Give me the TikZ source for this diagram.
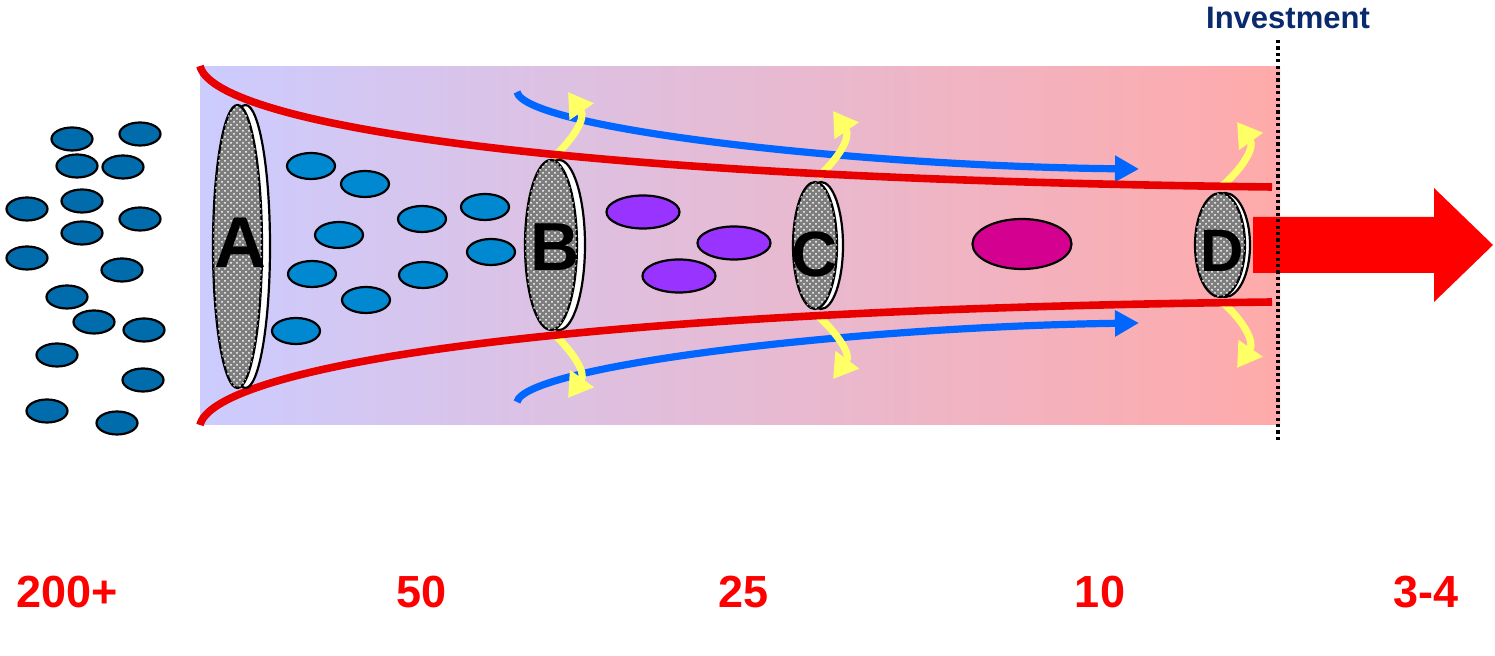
\documentclass[tikz,border=0pt]{standalone}
\usepackage{fontspec}
\setmainfont{Liberation Sans}
\usetikzlibrary{shapes.geometric,arrows.meta,patterns}
\definecolor{bgL}{RGB}{204,204,255}
\definecolor{bgR}{RGB}{255,170,170}
\definecolor{redline}{RGB}{232,0,0}
\definecolor{blueline}{RGB}{0,102,255}
\definecolor{yellowline}{RGB}{255,255,102}
\definecolor{dotL}{RGB}{0,108,172}
\definecolor{dotI}{RGB}{0,136,208}
\definecolor{purp}{RGB}{153,51,255}
\definecolor{mag}{RGB}{212,0,143}
\definecolor{navy}{RGB}{10,42,110}
\definecolor{numred}{RGB}{255,0,0}
\definecolor{discgray}{RGB}{125,125,125}
\tikzset{
 ldot/.style={ellipse, draw=black, line width=1.1pt, fill=dotL, minimum width=20.5pt, minimum height=11.5pt, inner sep=0pt},
 idot/.style={ldot, fill=dotI, minimum width=24pt, minimum height=13pt},
 pdot/.style={ldot, fill=purp, minimum width=36.5pt, minimum height=16.5pt},
 mdot/.style={ldot, fill=mag, minimum width=49.5pt, minimum height=25pt},
 disc/.style={ellipse, draw=black, line width=1.1pt, fill=discgray, postaction={pattern=crosshatch dots, pattern color=white}, inner sep=0pt},
 discback/.style={ellipse, draw=black, line width=1.1pt, fill=white, inner sep=0pt},
 letter/.style={font=\bfseries\fontsize{#1}{#1}\selectfont, inner sep=0pt},
 numlabel/.style={text=numred, font=\bfseries\fontsize{22.5}{24}\selectfont, inner sep=0pt},
 redcurve/.style={draw=redline, line width=3.8pt},
 bluearrow/.style={draw=blueline, line width=3.6pt, -{Triangle[length=12pt,width=12.5pt]}},
 yellowarrow/.style={draw=yellowline, line width=3.6pt, -{Triangle[length=12pt,width=14pt]}},
}
\begin{document}
\begin{tikzpicture}[x=0.5pt,y=-0.5pt]
\useasboundingbox (0,0) rectangle (1495,656);
% background band
\shade[left color=bgL, right color=bgR] (200,67) rectangle (1280,425);

% blue arrows
\coordinate (bt0) at (517,92);
\coordinate (bt1) at (1139,169);
\coordinate (bb0) at (517,402);
\coordinate (bb1) at (1139,323);
\draw[bluearrow] (bt0) .. controls (525,128) and (850,166) .. (bt1);
\draw[bluearrow] (bb0) .. controls (525,366) and (850,327) .. (bb1);

% yellow arrows
\coordinate (yB0) at (553,158); \coordinate (yB1) at (568,92);
\coordinate (yB2) at (553,333); \coordinate (yB3) at (568,398);
\coordinate (yC0) at (818,177); \coordinate (yC1) at (833,111);
\coordinate (yC2) at (818,316); \coordinate (yC3) at (833,379);
\coordinate (yD0) at (1222,186); \coordinate (yD1) at (1237,122);
\coordinate (yD2) at (1222,302); \coordinate (yD3) at (1237,368);
\draw[yellowarrow] (yB0) .. controls (574,138) and (586,118) .. (yB1);
\draw[yellowarrow] (yB2) .. controls (574,353) and (586,373) .. (yB3);
\draw[yellowarrow] (yC0) .. controls (839,158) and (851,137) .. (yC1);
\draw[yellowarrow] (yC2) .. controls (839,335) and (851,355) .. (yC3);
\draw[yellowarrow] (yD0) .. controls (1243,168) and (1255,147) .. (yD1);
\draw[yellowarrow] (yD2) .. controls (1243,320) and (1255,342) .. (yD3);

% red funnel curves
\coordinate (rt0) at (200,66);
\coordinate (rt1) at (1272,187);
\coordinate (rb0) at (200,425);
\coordinate (rb1) at (1272,302);
\draw[redcurve] (rt0) .. controls (212,118) and (500,178) .. (rt1);
\draw[redcurve] (rb0) .. controls (212,373) and (500,311) .. (rb1);

% left dots
\node[ldot] (l1) at (72,139) {};
\node[ldot] (l2) at (140,134) {};
\node[ldot] (l3) at (77,166) {};
\node[ldot] (l4) at (123,167) {};
\node[ldot] (l5) at (27,209) {};
\node[ldot] (l6) at (82,201) {};
\node[ldot] (l7) at (140,219) {};
\node[ldot] (l8) at (82,233) {};
\node[ldot] (l9) at (27,258) {};
\node[ldot] (l10) at (122,270) {};
\node[ldot] (l11) at (67,297) {};
\node[ldot] (l12) at (94,322) {};
\node[ldot] (l13) at (144,330) {};
\node[ldot] (l14) at (57,355) {};
\node[ldot] (l15) at (143,380) {};
\node[ldot] (l16) at (47,411) {};
\node[ldot] (l17) at (117,423) {};

% inner dots
\node[idot] (i1) at (311,166) {};
\node[idot] (i2) at (365,184) {};
\node[idot] (i3) at (422,219) {};
\node[idot] (i4) at (485,207) {};
\node[idot] (i5) at (339,235) {};
\node[idot] (i6) at (312,274) {};
\node[idot] (i7) at (423,275) {};
\node[idot] (i8) at (491,252) {};
\node[idot] (i9) at (366,300) {};
\node[idot] (i10) at (296,331) {};

% purple and magenta
\node[pdot] (p1) at (643,212) {};
\node[pdot] (p2) at (734,243) {};
\node[pdot] (p3) at (679,276) {};
\node[mdot] (m1) at (1022,244) {};

% filters
\node[discback, minimum width=24.5pt, minimum height=141.5pt] (Aback) at (245.5,246.5) {};
\node[disc, minimum width=24.5pt, minimum height=141.5pt] (A) at (237.5,246.5) {};
\node[discback, minimum width=26pt, minimum height=85pt] (Bback) at (559,245) {};
\node[disc, minimum width=26pt, minimum height=85pt] (B) at (551,245) {};
\node[discback, minimum width=22pt, minimum height=63.5pt] (Cback) at (821,245.5) {};
\node[disc, minimum width=22pt, minimum height=63.5pt] (C) at (815,245.5) {};
\node[discback, minimum width=25pt, minimum height=52pt] (Dback) at (1225,245) {};
\node[disc, minimum width=25pt, minimum height=52pt] (D) at (1220,245) {};

\node[letter=36] (Alab) at (240,243) {A};
\node[letter=34] (Blab) at (555,247) {B};
\node[letter=32] (Clab) at (815,254) {C};
\node[letter=30] (Dlab) at (1222,251) {D};

% big red arrow
\fill[numred] (1253,217) -- (1434,217) -- (1434,188) -- (1493,245) -- (1434,302) -- (1434,273) -- (1253,273) -- cycle;

% investment line
\coordinate (dtop) at (1278,40);
\coordinate (dbot) at (1278,443);
\draw[line width=1.6pt, dash pattern=on 1.6pt off 1.6pt] (dtop) -- (dbot);
\node[text=navy, font=\bfseries\fontsize{15.5}{16}\selectfont, inner sep=0pt] (inv) at (1288,18) {Investment};

% numbers
\node[numlabel] (n1) at (67,592) {200+};
\node[numlabel] (n2) at (421.5,592) {50};
\node[numlabel] (n3) at (744,592) {25};
\node[numlabel] (n4) at (1100,592) {10};
\node[numlabel] (n5) at (1426,592) {3-4};
\end{tikzpicture}
\end{document}
